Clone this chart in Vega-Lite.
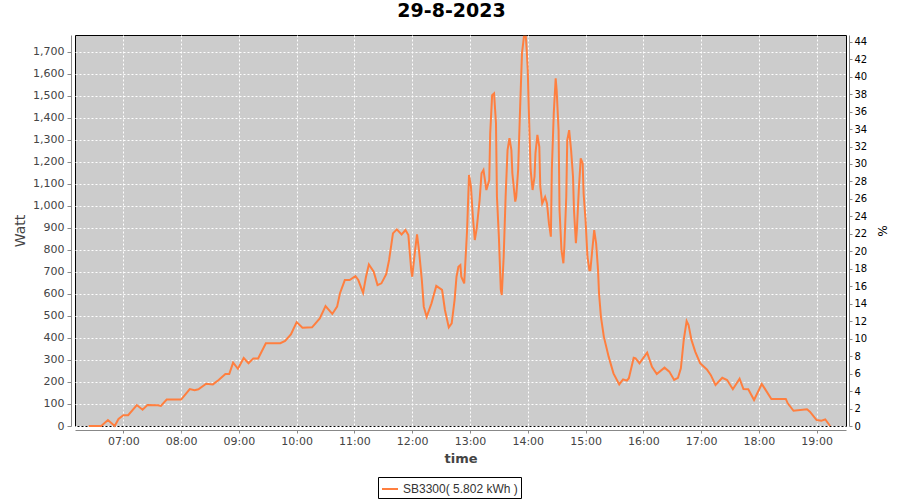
{
  "$schema": "https://vega.github.io/schema/vega-lite/v6.json",
  "width": 771,
  "height": 391,
  "autosize": "none",
  "padding": {"left": 75, "top": 35, "right": 54, "bottom": 74},
  "background": "white",
  "title": {"text": "29-8-2023", "font": "DejaVu Sans", "fontSize": 19, "fontWeight": "bold", "color": "black", "offset": 12, "dx": -9},
  "config": {
    "view": {"fill": "#cccccc", "stroke": "black", "strokeWidth": 1},
    "axis": {"labelFont": "DejaVu Sans", "labelFontSize": 11, "labelColor": "#444444", "titleFont": "DejaVu Sans", "titleColor": "#444444", "domainColor": "#888888", "tickColor": "#888888", "gridColor": "white", "gridDash": [2, 2], "gridOpacity": 1}
  },
  "data": {"values": [
    {"t": "2023-08-29T06:24:00", "w": 0}, {"t": "2023-08-29T06:37:00", "w": 0}, {"t": "2023-08-29T06:44:00", "w": 27}, {"t": "2023-08-29T06:51:00", "w": 0}, {"t": "2023-08-29T06:55:00", "w": 32}, {"t": "2023-08-29T07:00:00", "w": 49}, {"t": "2023-08-29T07:05:00", "w": 49}, {"t": "2023-08-29T07:14:00", "w": 95}, {"t": "2023-08-29T07:20:00", "w": 74}, {"t": "2023-08-29T07:25:00", "w": 95}, {"t": "2023-08-29T07:36:00", "w": 94}, {"t": "2023-08-29T07:39:00", "w": 91}, {"t": "2023-08-29T07:45:00", "w": 120}, {"t": "2023-08-29T08:00:00", "w": 120}, {"t": "2023-08-29T08:09:00", "w": 168}, {"t": "2023-08-29T08:14:00", "w": 163}, {"t": "2023-08-29T08:18:00", "w": 167}, {"t": "2023-08-29T08:26:00", "w": 192}, {"t": "2023-08-29T08:33:00", "w": 189}, {"t": "2023-08-29T08:39:00", "w": 209}, {"t": "2023-08-29T08:46:00", "w": 236}, {"t": "2023-08-29T08:50:00", "w": 236}, {"t": "2023-08-29T08:54:00", "w": 288}, {"t": "2023-08-29T08:59:00", "w": 260}, {"t": "2023-08-29T09:05:00", "w": 309}, {"t": "2023-08-29T09:10:00", "w": 285}, {"t": "2023-08-29T09:15:00", "w": 307}, {"t": "2023-08-29T09:20:00", "w": 307}, {"t": "2023-08-29T09:28:00", "w": 376}, {"t": "2023-08-29T09:43:00", "w": 376}, {"t": "2023-08-29T09:48:00", "w": 386}, {"t": "2023-08-29T09:54:00", "w": 416}, {"t": "2023-08-29T10:00:00", "w": 472}, {"t": "2023-08-29T10:06:00", "w": 446}, {"t": "2023-08-29T10:16:00", "w": 448}, {"t": "2023-08-29T10:24:00", "w": 489}, {"t": "2023-08-29T10:30:00", "w": 545}, {"t": "2023-08-29T10:37:00", "w": 509}, {"t": "2023-08-29T10:42:00", "w": 542}, {"t": "2023-08-29T10:45:00", "w": 603}, {"t": "2023-08-29T10:50:00", "w": 663}, {"t": "2023-08-29T10:55:00", "w": 663}, {"t": "2023-08-29T11:01:00", "w": 681}, {"t": "2023-08-29T11:04:00", "w": 663}, {"t": "2023-08-29T11:09:00", "w": 605}, {"t": "2023-08-29T11:12:00", "w": 678}, {"t": "2023-08-29T11:15:00", "w": 734}, {"t": "2023-08-29T11:20:00", "w": 701}, {"t": "2023-08-29T11:24:00", "w": 640}, {"t": "2023-08-29T11:28:00", "w": 648}, {"t": "2023-08-29T11:33:00", "w": 690}, {"t": "2023-08-29T11:36:00", "w": 754}, {"t": "2023-08-29T11:40:00", "w": 875}, {"t": "2023-08-29T11:44:00", "w": 893}, {"t": "2023-08-29T11:49:00", "w": 870}, {"t": "2023-08-29T11:53:00", "w": 890}, {"t": "2023-08-29T11:56:00", "w": 867}, {"t": "2023-08-29T11:59:00", "w": 708}, {"t": "2023-08-29T12:00:00", "w": 678}, {"t": "2023-08-29T12:03:00", "w": 799}, {"t": "2023-08-29T12:05:00", "w": 870}, {"t": "2023-08-29T12:07:00", "w": 799}, {"t": "2023-08-29T12:10:00", "w": 663}, {"t": "2023-08-29T12:12:00", "w": 542}, {"t": "2023-08-29T12:15:00", "w": 496}, {"t": "2023-08-29T12:20:00", "w": 557}, {"t": "2023-08-29T12:25:00", "w": 636}, {"t": "2023-08-29T12:31:00", "w": 618}, {"t": "2023-08-29T12:34:00", "w": 527}, {"t": "2023-08-29T12:38:00", "w": 448}, {"t": "2023-08-29T12:41:00", "w": 466}, {"t": "2023-08-29T12:44:00", "w": 572}, {"t": "2023-08-29T12:46:00", "w": 678}, {"t": "2023-08-29T12:48:00", "w": 723}, {"t": "2023-08-29T12:50:00", "w": 731}, {"t": "2023-08-29T12:51:00", "w": 678}, {"t": "2023-08-29T12:54:00", "w": 648}, {"t": "2023-08-29T12:57:00", "w": 890}, {"t": "2023-08-29T12:59:00", "w": 1140}, {"t": "2023-08-29T13:01:00", "w": 1087}, {"t": "2023-08-29T13:03:00", "w": 950}, {"t": "2023-08-29T13:05:00", "w": 845}, {"t": "2023-08-29T13:07:00", "w": 898}, {"t": "2023-08-29T13:10:00", "w": 1026}, {"t": "2023-08-29T13:12:00", "w": 1148}, {"t": "2023-08-29T13:14:00", "w": 1163}, {"t": "2023-08-29T13:17:00", "w": 1072}, {"t": "2023-08-29T13:20:00", "w": 1117}, {"t": "2023-08-29T13:21:00", "w": 1329}, {"t": "2023-08-29T13:23:00", "w": 1503}, {"t": "2023-08-29T13:25:00", "w": 1511}, {"t": "2023-08-29T13:27:00", "w": 1375}, {"t": "2023-08-29T13:28:00", "w": 1041}, {"t": "2023-08-29T13:30:00", "w": 860}, {"t": "2023-08-29T13:32:00", "w": 618}, {"t": "2023-08-29T13:33:00", "w": 595}, {"t": "2023-08-29T13:35:00", "w": 769}, {"t": "2023-08-29T13:37:00", "w": 1041}, {"t": "2023-08-29T13:39:00", "w": 1253}, {"t": "2023-08-29T13:41:00", "w": 1307}, {"t": "2023-08-29T13:43:00", "w": 1253}, {"t": "2023-08-29T13:44:00", "w": 1148}, {"t": "2023-08-29T13:47:00", "w": 1019}, {"t": "2023-08-29T13:48:00", "w": 1041}, {"t": "2023-08-29T13:50:00", "w": 1163}, {"t": "2023-08-29T13:52:00", "w": 1435}, {"t": "2023-08-29T13:54:00", "w": 1693}, {"t": "2023-08-29T13:56:00", "w": 1768}, {"t": "2023-08-29T13:58:00", "w": 1768}, {"t": "2023-08-29T13:59:00", "w": 1700}, {"t": "2023-08-29T14:00:00", "w": 1617}, {"t": "2023-08-29T14:01:00", "w": 1450}, {"t": "2023-08-29T14:03:00", "w": 1163}, {"t": "2023-08-29T14:05:00", "w": 1072}, {"t": "2023-08-29T14:07:00", "w": 1132}, {"t": "2023-08-29T14:08:00", "w": 1238}, {"t": "2023-08-29T14:10:00", "w": 1322}, {"t": "2023-08-29T14:12:00", "w": 1268}, {"t": "2023-08-29T14:13:00", "w": 1087}, {"t": "2023-08-29T14:15:00", "w": 1011}, {"t": "2023-08-29T14:18:00", "w": 1041}, {"t": "2023-08-29T14:20:00", "w": 1011}, {"t": "2023-08-29T14:22:00", "w": 920}, {"t": "2023-08-29T14:24:00", "w": 860}, {"t": "2023-08-29T14:25:00", "w": 1163}, {"t": "2023-08-29T14:27:00", "w": 1420}, {"t": "2023-08-29T14:29:00", "w": 1579}, {"t": "2023-08-29T14:30:00", "w": 1526}, {"t": "2023-08-29T14:32:00", "w": 1344}, {"t": "2023-08-29T14:33:00", "w": 981}, {"t": "2023-08-29T14:35:00", "w": 799}, {"t": "2023-08-29T14:37:00", "w": 739}, {"t": "2023-08-29T14:38:00", "w": 814}, {"t": "2023-08-29T14:40:00", "w": 1041}, {"t": "2023-08-29T14:41:00", "w": 1299}, {"t": "2023-08-29T14:43:00", "w": 1344}, {"t": "2023-08-29T14:45:00", "w": 1253}, {"t": "2023-08-29T14:47:00", "w": 1132}, {"t": "2023-08-29T14:48:00", "w": 981}, {"t": "2023-08-29T14:50:00", "w": 830}, {"t": "2023-08-29T14:51:00", "w": 890}, {"t": "2023-08-29T14:53:00", "w": 1072}, {"t": "2023-08-29T14:55:00", "w": 1216}, {"t": "2023-08-29T14:57:00", "w": 1193}, {"t": "2023-08-29T14:58:00", "w": 1056}, {"t": "2023-08-29T15:00:00", "w": 936}, {"t": "2023-08-29T15:02:00", "w": 769}, {"t": "2023-08-29T15:04:00", "w": 708}, {"t": "2023-08-29T15:05:00", "w": 708}, {"t": "2023-08-29T15:07:00", "w": 799}, {"t": "2023-08-29T15:09:00", "w": 890}, {"t": "2023-08-29T15:11:00", "w": 830}, {"t": "2023-08-29T15:13:00", "w": 708}, {"t": "2023-08-29T15:14:00", "w": 603}, {"t": "2023-08-29T15:16:00", "w": 496}, {"t": "2023-08-29T15:19:00", "w": 406}, {"t": "2023-08-29T15:24:00", "w": 315}, {"t": "2023-08-29T15:29:00", "w": 239}, {"t": "2023-08-29T15:35:00", "w": 189}, {"t": "2023-08-29T15:39:00", "w": 212}, {"t": "2023-08-29T15:43:00", "w": 206}, {"t": "2023-08-29T15:45:00", "w": 217}, {"t": "2023-08-29T15:50:00", "w": 310}, {"t": "2023-08-29T15:52:00", "w": 307}, {"t": "2023-08-29T15:56:00", "w": 285}, {"t": "2023-08-29T16:01:00", "w": 315}, {"t": "2023-08-29T16:04:00", "w": 333}, {"t": "2023-08-29T16:09:00", "w": 269}, {"t": "2023-08-29T16:14:00", "w": 236}, {"t": "2023-08-29T16:22:00", "w": 265}, {"t": "2023-08-29T16:27:00", "w": 247}, {"t": "2023-08-29T16:32:00", "w": 209}, {"t": "2023-08-29T16:36:00", "w": 219}, {"t": "2023-08-29T16:39:00", "w": 262}, {"t": "2023-08-29T16:42:00", "w": 391}, {"t": "2023-08-29T16:45:00", "w": 477}, {"t": "2023-08-29T16:47:00", "w": 459}, {"t": "2023-08-29T16:50:00", "w": 391}, {"t": "2023-08-29T16:54:00", "w": 337}, {"t": "2023-08-29T16:59:00", "w": 285}, {"t": "2023-08-29T17:06:00", "w": 257}, {"t": "2023-08-29T17:10:00", "w": 232}, {"t": "2023-08-29T17:15:00", "w": 186}, {"t": "2023-08-29T17:22:00", "w": 219}, {"t": "2023-08-29T17:27:00", "w": 209}, {"t": "2023-08-29T17:33:00", "w": 167}, {"t": "2023-08-29T17:40:00", "w": 215}, {"t": "2023-08-29T17:44:00", "w": 168}, {"t": "2023-08-29T17:49:00", "w": 167}, {"t": "2023-08-29T17:55:00", "w": 118}, {"t": "2023-08-29T18:03:00", "w": 191}, {"t": "2023-08-29T18:06:00", "w": 171}, {"t": "2023-08-29T18:13:00", "w": 123}, {"t": "2023-08-29T18:28:00", "w": 123}, {"t": "2023-08-29T18:30:00", "w": 103}, {"t": "2023-08-29T18:36:00", "w": 69}, {"t": "2023-08-29T18:50:00", "w": 76}, {"t": "2023-08-29T18:53:00", "w": 65}, {"t": "2023-08-29T19:00:00", "w": 27}, {"t": "2023-08-29T19:05:00", "w": 24}, {"t": "2023-08-29T19:09:00", "w": 30}, {"t": "2023-08-29T19:14:00", "w": 0}
  ]},
  "resolve": {"scale": {"y": "independent"}},
  "layer": [
    {
      "mark": {"type": "line", "strokeWidth": 2},
      "encoding": {
        "x": {"field": "t", "type": "temporal",
          "scale": {"domain": [{"year": 2023, "month": 8, "date": 29, "hours": 6, "minutes": 9, "seconds": 48}, {"year": 2023, "month": 8, "date": 29, "hours": 19, "minutes": 30, "seconds": 30}]},
          "axis": {"title": "time", "format": "%H:%M", "tickCount": 13, "offset": 4, "tickSize": 3, "labelPadding": 2, "titleFontWeight": "bold", "titleFontSize": 13, "titlePadding": 6, "grid": true}},
        "y": {"field": "w", "type": "quantitative",
          "scale": {"domain": [0, 1776], "nice": false},
          "axis": {"title": "Watt", "values": [0, 100, 200, 300, 400, 500, 600, 700, 800, 900, 1000, 1100, 1200, 1300, 1400, 1500, 1600, 1700], "format": ",d", "offset": 4, "tickSize": 4, "labelPadding": 3, "titleFontSize": 14, "titleFontWeight": "normal", "titlePadding": 5, "grid": true}},
        "color": {"datum": "SB3300( 5.802 kWh )", "type": "nominal", "scale": {"range": ["#ff7f3f"]},
          "legend": {"title": null, "orient": "none", "legendX": 303, "legendY": 442, "symbolType": "stroke", "symbolSize": 256, "symbolStrokeWidth": 2, "strokeColor": "black", "padding": 3, "labelFontSize": 12, "labelColor": "#333333", "labelOffset": 4}}
      }
    },
    {
      "mark": {"type": "line", "opacity": 0, "clip": true},
      "encoding": {
        "x": {"field": "t", "type": "temporal"},
        "y": {"field": "w", "type": "quantitative",
          "scale": {"domain": [0, 44.77], "nice": false},
          "axis": {"orient": "right", "title": "%", "values": [0, 2, 4, 6, 8, 10, 12, 14, 16, 18, 20, 22, 24, 26, 28, 30, 32, 34, 36, 38, 40, 42, 44], "offset": 3, "tickSize": 3, "labelPadding": 2, "labelFontSize": 10, "labelColor": "black", "grid": false, "titleFontSize": 12, "titleColor": "black", "titleFontWeight": "normal", "titlePadding": 8}}
      }
    }
  ]
}
